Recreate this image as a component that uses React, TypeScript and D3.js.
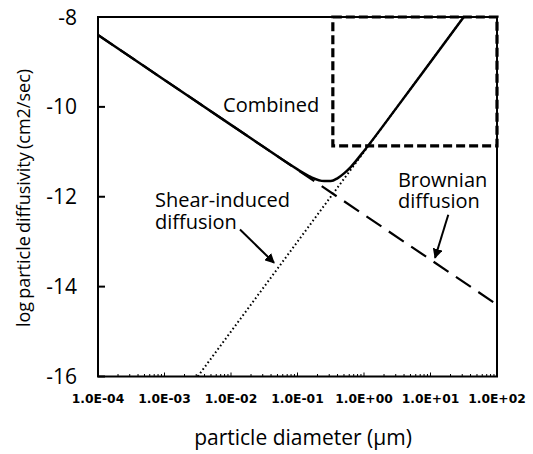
import React from "react";
import * as d3 from "d3";

const xTickValues = [1e-4, 1e-3, 1e-2, 1e-1, 1e0, 1e1, 1e2];
const xTickLabels = ["1.0E-04", "1.0E-03", "1.0E-02", "1.0E-01", "1.0E+00", "1.0E+01", "1.0E+02"];
const yTickValues = [-16, -14, -12, -10, -8];

// Brownian diffusion (dashed)
const brownianX = [1e-4, 1e2];
const brownianY = [-8.4, -14.4];

// Shear-induced diffusion (dotted)
const shearX = [0.00316, 31.6];
const shearY = [-16, -8];

// Combined (solid)
const combinedX = [1e-4, 1e-3, 1e-2, 0.0316, 0.1, 0.158, 0.251, 0.316, 0.398, 0.501, 0.631, 1.0, 3.16, 10, 31.6];
const combinedY = [-8.4, -9.4, -10.4, -10.9, -11.39, -11.56, -11.65, -11.65, -11.59, -11.48, -11.34, -10.98, -10.0, -9.0, -8.0];

// Dashed highlight box
const boxX = [0.34, 100];
const boxY = [-10.87, -8];

// Annotations (data coordinates)
const shearArrow = { from: [0.01365, -12.73], to: [0.0444, -13.47] };
const brownArrow = { from: [18.5, -12.4], to: [11.7, -13.36] };

const W = 533;
const H = 454;

export default function App() {
  const x = d3.scaleLog().domain([1e-4, 1e2]).range([98, 497]);
  const y = d3.scaleLinear().domain([-16, -8]).range([376.5, 17]);
  const [x0, x1] = x.range();
  const [yb, yt] = y.range();

  const lineGen = d3
    .line<[number, number]>()
    .x((d) => x(d[0]))
    .y((d) => y(d[1]));
  const curveGen = d3
    .line<[number, number]>()
    .x((d) => x(d[0]))
    .y((d) => y(d[1]))
    .curve(d3.curveMonotoneX);

  const zip = (a: number[], b: number[]) => a.map((v, i) => [v, b[i]] as [number, number]);

  const minorTicks: { v: number; major: boolean }[] = [];
  for (let e = -4; e <= 2; e++) {
    for (let m = 1; m <= 9; m++) {
      const v = m * Math.pow(10, e);
      if (v > 100.0001) break;
      minorTicks.push({ v, major: m === 1 });
    }
  }

  const ann = "'Open Sans', sans-serif";

  return (
    <svg width={W} height={H} style={{ position: "absolute", left: 0, top: 0, background: "#fff" }}>
      <defs>
        <clipPath id="plot">
          <rect x={x0} y={yt} width={x1 - x0} height={yb - yt} />
        </clipPath>
        <marker id="ah" viewBox="0 0 10 10" refX="9" refY="5" markerWidth="5" markerHeight="5" orient="auto">
          <path d="M0,0 L10,5 L0,10 z" fill="#000" />
        </marker>
      </defs>

      <g clipPath="url(#plot)">
        <path d={lineGen(zip(shearX, shearY)) || ""} fill="none" stroke="#000" strokeWidth={2} strokeDasharray="1.6,2.6" />
        <path d={lineGen(zip(brownianX, brownianY)) || ""} fill="none" stroke="#000" strokeWidth={2.2} strokeDasharray="18,9" />
        <path d={curveGen(zip(combinedX, combinedY)) || ""} fill="none" stroke="#000" strokeWidth={2.5} />
      </g>

      {/* frame */}
      <rect x={x0} y={yt} width={x1 - x0} height={yb - yt} fill="none" stroke="#000" strokeWidth={2} />

      {/* dashed box */}
      <rect
        x={x(boxX[0])}
        y={y(boxY[1])}
        width={x(boxX[1]) - x(boxX[0])}
        height={y(boxY[0]) - y(boxY[1])}
        fill="none"
        stroke="#000"
        strokeWidth={3.2}
        strokeDasharray="9,4"
      />

      {/* x ticks */}
      {minorTicks.map((t, i) => (
        <line key={i} x1={x(t.v)} x2={x(t.v)} y1={yb} y2={yb - (t.major ? 4 : 2.5)} stroke="#000" strokeWidth={1} />
      ))}
      {xTickValues.map((v, i) => (
        <text
          key={i}
          x={x(v)}
          y={403}
          textAnchor="middle"
          fontFamily="'DejaVu Sans', sans-serif"
          fontWeight="bold"
          fontSize={12.3}
          fill="#000"
        >
          {xTickLabels[i]}
        </text>
      ))}

      {/* y ticks */}
      {yTickValues.map((v, i) => (
        <g key={i}>
          <line x1={x0} x2={x0 + 7} y1={y(v)} y2={y(v)} stroke="#000" strokeWidth={2} />
          <text x={77} y={y(v)} dy="0.36em" textAnchor="end" fontFamily={ann} fontSize={21} fill="#000">
            {v}
          </text>
        </g>
      ))}

      {/* axis titles */}
      <text x={303} y={445} textAnchor="middle" fontFamily={ann} fontSize={21} fill="#000">
        particle diameter (μm)
      </text>
      <text
        transform="translate(30,198) rotate(-90)"
        textAnchor="middle"
        fontFamily={ann}
        fontSize={18}
        wordSpacing={-1.5}
        fill="#000"
      >
        log particle diffusivity (cm2/sec)
      </text>

      {/* annotations */}
      <text x={x(0.00759)} y={y(-10.11)} fontFamily={ann} fontSize={20} fill="#000">
        Combined
      </text>
      <text x={x(0.00072)} y={y(-12.22)} fontFamily={ann} fontSize={20} fill="#000">
        Shear-induced
      </text>
      <text x={x(0.00072)} y={y(-12.71)} fontFamily={ann} fontSize={20} fill="#000">
        diffusion
      </text>
      <text x={x(3.24)} y={y(-11.78)} fontFamily={ann} fontSize={20} fill="#000">
        Brownian
      </text>
      <text x={x(3.24)} y={y(-12.24)} fontFamily={ann} fontSize={20} fill="#000">
        diffusion
      </text>

      <line
        x1={x(shearArrow.from[0])}
        y1={y(shearArrow.from[1])}
        x2={x(shearArrow.to[0])}
        y2={y(shearArrow.to[1])}
        stroke="#000"
        strokeWidth={2}
        markerEnd="url(#ah)"
      />
      <line
        x1={x(brownArrow.from[0])}
        y1={y(brownArrow.from[1])}
        x2={x(brownArrow.to[0])}
        y2={y(brownArrow.to[1])}
        stroke="#000"
        strokeWidth={2}
        markerEnd="url(#ah)"
      />
    </svg>
  );
}
